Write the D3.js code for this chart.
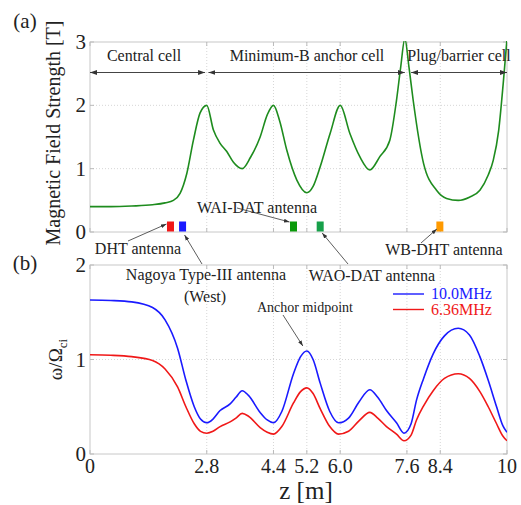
<!DOCTYPE html>
<html>
<head>
<meta charset="utf-8">
<script src="https://cdn.jsdelivr.net/npm/d3@7"></script>
<style>
  body { margin: 0; background: #fff; }
  text { font-family: "Liberation Serif", "DejaVu Serif", serif; fill: #222; }
</style>
</head>
<body>
<svg id="chart" width="521" height="505"></svg>
<script>
// ---- data ----
const bZ = [0, 0.5, 1.0, 1.5, 1.8, 2.0, 2.16, 2.32, 2.48, 2.64, 2.8, 2.96, 3.12, 3.28, 3.44, 3.65, 3.85, 4.08, 4.25, 4.4,
            4.55, 4.72, 4.96, 5.2, 5.35, 5.52, 5.76, 6.0, 6.23, 6.47, 6.71, 6.95, 7.19, 7.35, 7.45, 7.55, 7.65, 7.75,
            8.0, 8.31, 8.55, 8.83, 9.1, 9.35, 9.55, 9.67, 9.8, 9.91, 10];
const bField = [0.40, 0.40, 0.41, 0.43, 0.46, 0.50, 0.61, 0.92, 1.45, 1.88, 2.00, 1.61, 1.40, 1.27, 1.10, 1.00, 1.18, 1.50, 1.85, 2.00,
                1.75, 1.29, 0.82, 0.62, 0.72, 1.03, 1.56, 2.00, 1.56, 1.19, 0.98, 1.19, 1.45, 2.08, 2.60, 3.05, 2.60, 2.08,
                1.08, 0.66, 0.53, 0.50, 0.55, 0.66, 0.90, 1.13, 1.60, 2.35, 3.05];

const wZ = [0, 0.5, 1.0, 1.5, 1.8, 2.1, 2.3, 2.5, 2.65, 2.8, 2.95, 3.12, 3.36, 3.5, 3.65, 3.8, 4.08, 4.25, 4.4, 4.6, 4.88,
            5.05, 5.2, 5.35, 5.52, 5.75, 5.96, 6.2, 6.45, 6.71, 6.9, 7.11, 7.35, 7.53, 7.7, 7.83, 8.0, 8.23, 8.5, 8.83,
            9.1, 9.35, 9.55, 9.75, 9.9, 10];
const w10MHz = [1.63, 1.625, 1.61, 1.55, 1.42, 1.12, 0.78, 0.50, 0.37, 0.33, 0.37, 0.46, 0.53, 0.60, 0.67, 0.62, 0.44, 0.36, 0.33, 0.45, 0.85,
                1.03, 1.09, 1.00, 0.75, 0.45, 0.33, 0.38, 0.55, 0.68, 0.60, 0.46, 0.33, 0.22, 0.32, 0.57, 0.80, 1.06, 1.25, 1.33,
                1.26, 1.03, 0.78, 0.50, 0.30, 0.23];
const w636MHz = [1.05, 1.045, 1.03, 0.99, 0.90, 0.71, 0.50, 0.32, 0.24, 0.22, 0.24, 0.29, 0.34, 0.38, 0.43, 0.40, 0.28, 0.23, 0.21, 0.29, 0.54,
                 0.66, 0.70, 0.64, 0.48, 0.29, 0.21, 0.24, 0.35, 0.44, 0.38, 0.29, 0.21, 0.14, 0.20, 0.36, 0.51, 0.67, 0.80, 0.85,
                 0.80, 0.66, 0.50, 0.32, 0.19, 0.14];

const xTicks = [0, 2.8, 4.4, 5.2, 6.0, 7.6, 8.4, 10];
const xTickLabels = ["0", "2.8", "4.4", "5.2", "6.0", "7.6", "8.4", "10"];
const bTicks = [0, 1, 2, 3];
const wTicks = [0, 1, 2];

// cells along z: [start, end, label]
const cells = [
  { from: 0, to: 2.76, label: "Central cell" },
  { from: 2.84, to: 7.55, label: "Minimum-B anchor cell" },
  { from: 7.7, to: 10, label: "Plug/barrier cell" }
];
const antennas = [
  { z: 1.93, color: "#f01818" },
  { z: 2.22, color: "#1a1aff" },
  { z: 4.88, color: "#0a9a0a" },
  { z: 5.52, color: "#17a04a" },
  { z: 8.39, color: "#ff9a00" }
];

// ---- layout ----
const svg = d3.select("#chart");
const left = 90, right = 507;
const topA = 42, botA = 232;
const topB = 265, botB = 454;

const x = d3.scaleLinear().domain([0, 10]).range([left, right]);
const yA = d3.scaleLinear().domain([0, 3]).range([botA, topA]);
const yB = d3.scaleLinear().domain([0, 2]).range([botB, topB]);

const defs = svg.append("defs");
defs.append("marker")
  .attr("id", "ah").attr("viewBox", "0 0 10 10")
  .attr("refX", 10).attr("refY", 5)
  .attr("markerWidth", 7).attr("markerHeight", 7)
  .attr("orient", "auto-start-reverse")
  .append("path").attr("d", "M0,1.5 L10,5 L0,8.5 Z").attr("fill", "#333");

defs.append("clipPath").attr("id", "clipA")
  .append("rect").attr("x", left).attr("y", topA - 1).attr("width", right - left).attr("height", botA - topA + 1);
defs.append("clipPath").attr("id", "clipB")
  .append("rect").attr("x", left).attr("y", topB).attr("width", right - left).attr("height", botB - topB);

function frame(y, ticks, top, bot) {
  const g = svg.append("g");
  // grid
  g.selectAll(".gx").data(xTicks.slice(1, -1)).enter().append("line")
    .attr("x1", d => x(d)).attr("x2", d => x(d))
    .attr("y1", top).attr("y2", bot)
    .attr("stroke", "#d6d6d6").attr("stroke-dasharray", "1,2");
  g.selectAll(".gy").data(ticks.slice(1, -1)).enter().append("line")
    .attr("x1", left).attr("x2", right)
    .attr("y1", d => y(d)).attr("y2", d => y(d))
    .attr("stroke", "#d6d6d6").attr("stroke-dasharray", "1,2");
  // box
  g.append("rect").attr("x", left).attr("y", top)
    .attr("width", right - left).attr("height", bot - top)
    .attr("fill", "none").attr("stroke", "#c8c8c8");
  // inward ticks
  g.selectAll(".tb").data(xTicks).enter().append("path")
    .attr("d", d => `M${x(d)},${bot}v-4M${x(d)},${top}v4`)
    .attr("stroke", "#bbb");
  g.selectAll(".tl").data(ticks).enter().append("path")
    .attr("d", d => `M${left},${y(d)}h4M${right},${y(d)}h-4`)
    .attr("stroke", "#bbb");
  // y labels
  g.selectAll(".yl").data(ticks).enter().append("text")
    .attr("x", left - 4).attr("y", d => y(d) + 7)
    .attr("text-anchor", "end").attr("font-size", 21)
    .text(d => d);
  return g;
}

// ---- panel (a) ----
frame(yA, bTicks, topA, botA);

const lineA = d3.line().x((d, i) => x(bZ[i])).y(d => yA(d)).curve(d3.curveMonotoneX);
svg.append("path").datum(bField)
  .attr("clip-path", "url(#clipA)")
  .attr("d", lineA).attr("fill", "none")
  .attr("stroke", "#1e8c1e").attr("stroke-width", 1.6);

const arrowY = 72.5;
cells.forEach(c => {
  svg.append("line")
    .attr("x1", x(c.from)).attr("x2", x(c.to))
    .attr("y1", arrowY).attr("y2", arrowY)
    .attr("stroke", "#444").attr("stroke-width", 1)
    .attr("marker-start", "url(#ah)").attr("marker-end", "url(#ah)");
});
svg.append("text").attr("x", 144).attr("y", 61).attr("text-anchor", "middle").attr("font-size", 16).text(cells[0].label);
svg.append("text").attr("x", 307).attr("y", 61).attr("text-anchor", "middle").attr("font-size", 16).text(cells[1].label);
svg.append("text").attr("x", 459).attr("y", 61).attr("text-anchor", "middle").attr("font-size", 16).text(cells[2].label);

svg.selectAll(".ant").data(antennas).enter().append("rect")
  .attr("x", d => x(d.z) - 3.5).attr("y", botA - 10.5)
  .attr("width", 7).attr("height", 10)
  .attr("fill", d => d.color);

// antenna labels
function note(txt, tx, ty, size, ax1, ay1, ax2, ay2) {
  svg.append("text").attr("x", tx).attr("y", ty).attr("text-anchor", "middle")
    .attr("font-size", size).text(txt);
  svg.append("line").attr("x1", ax1).attr("y1", ay1).attr("x2", ax2).attr("y2", ay2)
    .attr("stroke", "#333").attr("stroke-width", 0.8)
    .attr("marker-end", "url(#ah)");
}
note("DHT antenna", 138, 254, 16, 128, 241, x(1.93) - 4, 224);
note("Nagoya Type-III antenna", 206, 280, 16, 202, 264, x(2.22) + 2, 235);
svg.append("text").attr("x", 205).attr("y", 302).attr("text-anchor", "middle").attr("font-size", 16).text("(West)");
note("WAI-DAT antenna", 257, 213, 16, 237, 208, x(4.88) - 4, 222);
note("WAO-DAT antenna", 372, 281, 16, 348, 264, x(5.52) + 2, 233);
note("WB-DHT antenna", 444, 255, 16, 421, 243, x(8.39) - 3, 229);

svg.append("text").attr("x", 25).attr("y", 28).attr("text-anchor", "middle").attr("font-size", 21).text("(a)");
svg.append("text")
  .attr("transform", `translate(60,${(topA + botA) / 2 - 4}) rotate(-90)`)
  .attr("text-anchor", "middle").attr("font-size", 20)
  .text("Magnetic Field Strength [T]");

// ---- panel (b) ----
frame(yB, wTicks, topB, botB);

const lineB = d3.line().x((d, i) => x(wZ[i])).y(d => yB(d)).curve(d3.curveMonotoneX);
svg.append("path").datum(w10MHz)
  .attr("clip-path", "url(#clipB)")
  .attr("d", lineB).attr("fill", "none")
  .attr("stroke", "#1a1aff").attr("stroke-width", 1.6);
svg.append("path").datum(w636MHz)
  .attr("clip-path", "url(#clipB)")
  .attr("d", lineB).attr("fill", "none")
  .attr("stroke", "#f01818").attr("stroke-width", 1.6);

note("Anchor midpoint", 305, 312, 14, 283, 315, x(5.2) - 4, 346);

// legend
const legend = [{ label: "10.0MHz", color: "#1a1aff" }, { label: "6.36MHz", color: "#f01818" }];
legend.forEach((d, i) => {
  const ly = 294 + i * 15.5;
  svg.append("line").attr("x1", 393).attr("x2", 424).attr("y1", ly).attr("y2", ly)
    .attr("stroke", d.color).attr("stroke-width", 1.4);
  svg.append("text").attr("x", 431).attr("y", ly + 5).attr("font-size", 16)
    .style("fill", d.color).text(d.label);
});

// x tick labels
svg.selectAll(".xl").data(xTicks).enter().append("text")
  .attr("x", d => x(d)).attr("y", botB + 19)
  .attr("text-anchor", "middle").attr("font-size", 20)
  .text((d, i) => xTickLabels[i]);

svg.append("text").attr("x", 306).attr("y", 499).attr("text-anchor", "middle").attr("font-size", 25).text("z [m]");
svg.append("text").attr("x", 25).attr("y", 270).attr("text-anchor", "middle").attr("font-size", 21).text("(b)");

const yLab = svg.append("text")
  .attr("transform", `translate(62,${(topB + botB) / 2}) rotate(-90)`)
  .attr("text-anchor", "middle").attr("font-size", 19);
yLab.append("tspan").text("ω/Ω");
yLab.append("tspan").attr("font-size", 13).attr("dy", 5).text("ci");
</script>
</body>
</html>
